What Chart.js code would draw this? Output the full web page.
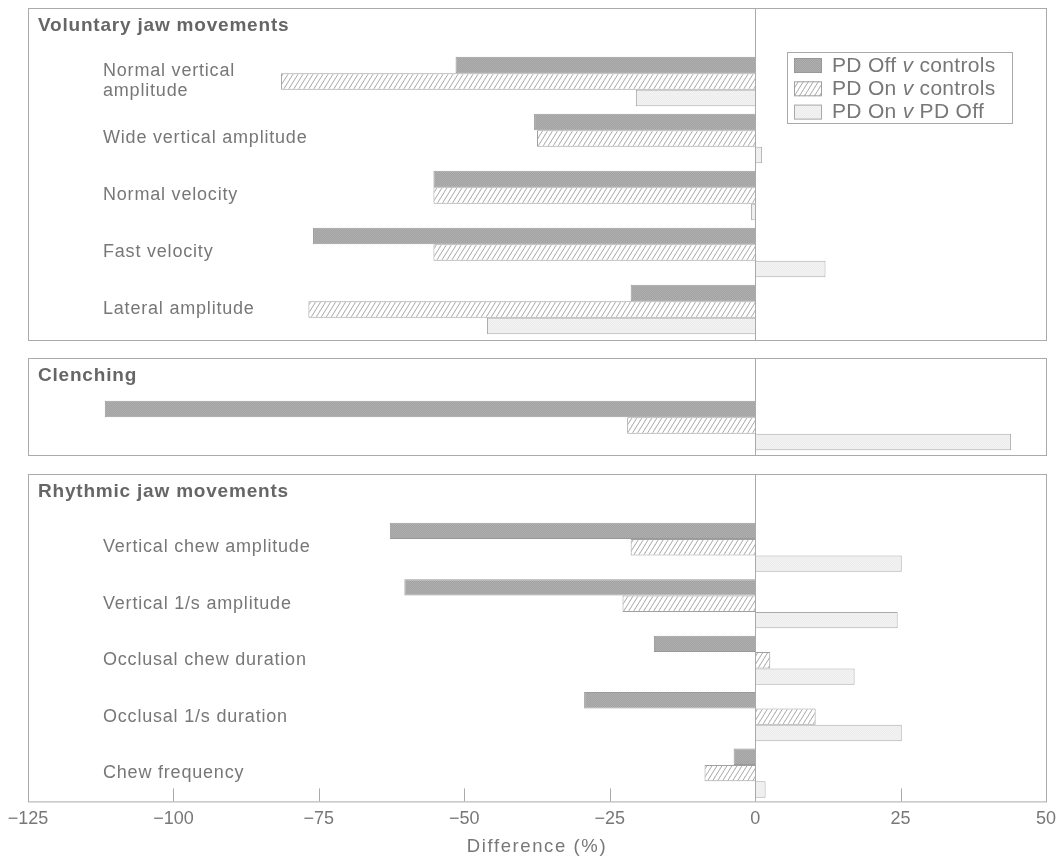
<!DOCTYPE html>
<html>
<head>
<meta charset="utf-8">
<script src="https://cdn.jsdelivr.net/npm/chart.js@4.4.0/dist/chart.umd.min.js"></script>
<style>
  html, body { margin: 0; padding: 0; background: #fff; }
  #wrap { position: relative; width: 1064px; height: 858px; }
  canvas { position: absolute; left: 0; }
</style>
</head>
<body>
<div id="wrap">
  <canvas id="volChart" width="1064" height="334" style="top:7px"></canvas>
  <canvas id="clenchChart" width="1064" height="99" style="top:357px"></canvas>
  <canvas id="rhyChart" width="1064" height="385" style="top:473px"></canvas>
</div>
<script>
// series names
const seriesNames = ['PD Off v controls', 'PD On v controls', 'PD On v PD Off'];

// Voluntary jaw movements
const volLabels = [['Normal vertical', 'amplitude'], 'Wide vertical amplitude', 'Normal velocity', 'Fast velocity', 'Lateral amplitude'];
const volOff = [-51.5, -38, -55.3, -76, -21.4];
const volOn = [-81.5, -37.5, -55.3, -55.3, -76.8];
const volOnOff = [-20.5, 1.2, -0.7, 12.1, -46.1];

// Clenching
const clenchLabels = [''];
const clenchOff = [-111.8];
const clenchOn = [-22];
const clenchOnOff = [44];

// Rhythmic jaw movements
const rhyLabels = ['Vertical chew amplitude', 'Vertical 1/s amplitude', 'Occlusal chew duration', 'Occlusal 1/s duration', 'Chew frequency'];
const rhyOff = [-62.8, -60.3, -17.4, -29.4, -3.7];
const rhyOn = [-21.4, -22.8, 2.6, 10.4, -8.7];
const rhyOnOff = [25.2, 24.5, 17.1, 25.2, 1.8];

// x axis
const xMin = -125;
const xMax = 50;
const xStep = 25;
const xTitle = 'Difference (%)';

const FONT = '"Liberation Sans", Arial, Helvetica, sans-serif';

// fill patterns
function makePattern(kind) {
    const c = document.createElement('canvas');
    const g = c.getContext('2d');
    if (kind === 'hatch') {
        c.width = 5; c.height = 8;
        g.fillStyle = '#fff';
        g.fillRect(0, 0, 5, 8);
        g.strokeStyle = '#a8a8a8';
        g.lineWidth = 1;
        g.beginPath();
        g.moveTo(-5, 16); g.lineTo(5, 0);
        g.moveTo(0, 16); g.lineTo(10, 0);
        g.moveTo(-5, 8); g.lineTo(0, 0);
        g.moveTo(5, 8); g.lineTo(10, 0);
        g.stroke();
    } else {
        c.width = 2; c.height = 2;
        const a = kind === 'dark' ? '#a2a2a2' : '#ececec';
        const b = kind === 'dark' ? '#afafaf' : '#f3f3f3';
        g.fillStyle = a; g.fillRect(0, 0, 2, 2);
        g.fillStyle = b; g.fillRect(1, 0, 1, 1); g.fillRect(0, 1, 1, 1);
    }
    return document.createElement('canvas').getContext('2d').createPattern(c, 'repeat');
}

const fills = [makePattern('dark'), makePattern('hatch'), makePattern('light')];
const borders = ['#999', '#a0a0a0', '#aaa'];

function splitV(label) {
    const i = label.indexOf(' v ');
    return [label.slice(0, i + 1), 'v', label.slice(i + 2)];
}

const panelPlugin = {
    id: 'panel',
    afterDatasetsDraw(chart, args, opts) {
        const ctx = chart.ctx;
        const a = chart.chartArea;
        const xs = chart.scales.x;
        const ys = chart.scales.y;
        const top = opts.frameTop;
        const bottom = a.bottom + opts.frameExtra;
        const x0 = Math.round(xs.getPixelForValue(0)) + 0.5;

        ctx.save();
        ctx.strokeStyle = '#aaa';
        ctx.lineWidth = 1;
        ctx.strokeRect(Math.round(a.left) + 0.5, top + 0.5, Math.round(a.right - a.left), bottom - top);
        ctx.beginPath();
        ctx.moveTo(x0, top);
        ctx.lineTo(x0, bottom);
        if (opts.inwardTicks) {
            xs.ticks.forEach(t => {
                const px = Math.round(xs.getPixelForValue(t.value)) + 0.5;
                ctx.moveTo(px, bottom);
                ctx.lineTo(px, bottom - 13);
            });
        }
        ctx.stroke();

        // panel title
        ctx.fillStyle = '#666';
        ctx.font = 'bold 19px ' + FONT;
        ctx.letterSpacing = '0.8px';
        ctx.textBaseline = 'middle';
        ctx.textAlign = 'left';
        ctx.fillText(opts.title, a.left + 10, top + 18);

        // category labels inside plot
        ctx.fillStyle = '#777';
        ctx.font = '18px ' + FONT;
        ctx.letterSpacing = '0.8px';
        chart.data.labels.forEach((lab, i) => {
            const lines = Array.isArray(lab) ? lab : [lab];
            const cy = ys.getPixelForValue(i);
            lines.forEach((ln, j) => {
                ctx.fillText(ln, a.left + 75, cy + (j - (lines.length - 1) / 2) * 20);
            });
        });

        // axis title under the bottom panel
        if (opts.axisTitle) {
            ctx.font = '18.5px ' + FONT;
            ctx.letterSpacing = '1.6px';
            ctx.textAlign = 'center';
            ctx.fillText(opts.axisTitle, (a.left + a.right) / 2, chart.height - 11);
            ctx.textAlign = 'left';
        }

        // legend
        if (opts.legend) {
            const L = opts.legend;
            ctx.strokeStyle = '#aaa';
            ctx.strokeRect(L.x + 0.5, L.y + 0.5, L.w, L.h);
            chart.data.datasets.forEach((ds, i) => {
                const cy = L.y + 13 + i * 23.3;
                ctx.fillStyle = ds.backgroundColor;
                ctx.fillRect(L.x + 7, cy - 7, 28, 15);
                ctx.strokeStyle = ds.borderColor;
                ctx.strokeRect(L.x + 7.5, cy - 6.5, 27, 14);
                const parts = splitV(ds.label);
                let tx = L.x + 45;
                ctx.fillStyle = '#777';
                ctx.letterSpacing = '0.3px';
                parts.forEach((p, k) => {
                    ctx.font = (k === 1 ? 'italic ' : '') + '21px ' + FONT;
                    ctx.fillText(p, tx, cy + 1);
                    tx += ctx.measureText(p).width;
                });
            });
        }
        ctx.restore();
    }
};

function makeDatasets(off, on, onOff) {
    return [off, on, onOff].map((d, i) => ({
        label: seriesNames[i],
        data: d,
        backgroundColor: fills[i],
        borderColor: borders[i],
        borderWidth: 1,
        barPercentage: 1,
        categoryPercentage: 0.87,
    }));
}

function xScale(show) {
    return {
        type: 'linear',
        min: xMin,
        max: xMax,
        display: show,
        grid: { display: false, drawTicks: false },
        border: { display: false },
        ticks: {
            stepSize: xStep,
            padding: 7,
            color: '#777',
            font: { family: FONT, size: 18 },
            maxRotation: 0,
            autoSkip: false,
            callback: v => (v < 0 ? '\u2212' + Math.abs(v) : String(v)),
        },
        title: { display: false },
    };
}

function makeChart(id, labels, datasets, pad, panelOpts, showX) {
    return new Chart(document.getElementById(id), {
        type: 'bar',
        data: { labels: labels, datasets: datasets },
        options: {
            indexAxis: 'y',
            responsive: false,
            animation: false,
            devicePixelRatio: 1,
            layout: { padding: pad },
            scales: {
                x: xScale(showX),
                y: { type: 'category', display: false, offset: true },
            },
            plugins: {
                legend: { display: false },
                tooltip: { enabled: false },
                panel: panelOpts,
            },
        },
        plugins: [panelPlugin],
    });
}

makeChart('volChart', volLabels, makeDatasets(volOff, volOn, volOnOff),
    { left: 28, right: 18, top: 46, bottom: 3 },
    { title: 'Voluntary jaw movements', frameTop: 1, frameExtra: 2,
      legend: { x: 787, y: 45, w: 225, h: 71 } }, false);

makeChart('clenchChart', clenchLabels, makeDatasets(clenchOff, clenchOn, clenchOnOff),
    { left: 28, right: 18, top: 40, bottom: 2 },
    { title: 'Clenching', frameTop: 1, frameExtra: 1 }, false);

makeChart('rhyChart', rhyLabels, makeDatasets(rhyOff, rhyOn, rhyOnOff),
    { left: 28, right: 18, top: 46, bottom: 21 },
    { title: 'Rhythmic jaw movements', frameTop: 1, frameExtra: 0, inwardTicks: true,
      axisTitle: xTitle }, true);
</script>
</body>
</html>
